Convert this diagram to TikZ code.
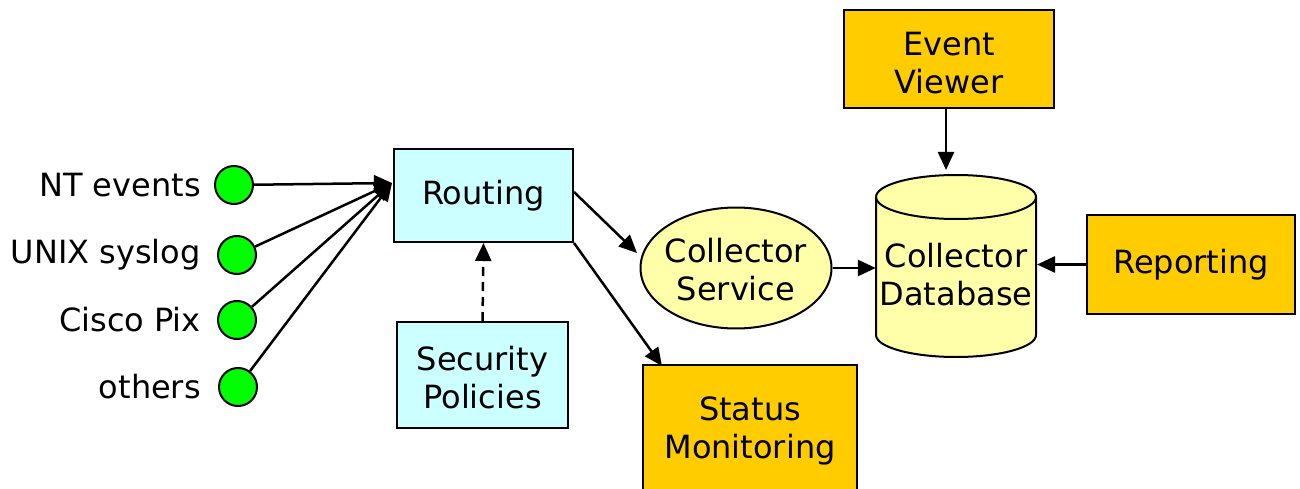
\documentclass[tikz,border=0pt]{standalone}
\usepackage{fontspec}
\setmainfont{DejaVu Sans}
\usetikzlibrary{arrows.meta,shapes.geometric}
\definecolor{cyanbox}{HTML}{CCFFFF}
\definecolor{orangebox}{HTML}{FFCC00}
\definecolor{yellowfill}{HTML}{FFFFAA}
\definecolor{greendot}{HTML}{00FF00}
\begin{document}
\begin{tikzpicture}[x=1pt,y=-1pt,
  every node/.style={font=\fontsize{32}{38}\selectfont, align=center, inner sep=0pt},
  box/.style={draw=black, line width=2pt, minimum width=#1},
  cyanstyle/.style={box=#1, fill=cyanbox},
  orangestyle/.style={box=#1, fill=orangebox},
  dot/.style={circle, draw=black, line width=2pt, fill=greendot, minimum size=38pt},
  lbl/.style={anchor=east},
  conn/.style={line width=2.5pt, -{Triangle[length=18pt,width=16pt]}},
  dconn/.style={conn, dash pattern=on 9pt off 6pt}
]
\clip (0,0) rectangle (1300,489);
\useasboundingbox (0,0) rectangle (1300,489);
% sources
\node[dot] (d1) at (234,185) {};
\node[dot] (d2) at (237,255) {};
\node[dot] (d3) at (237,320) {};
\node[dot] (d4) at (238,387) {};
\node[lbl] (l1) at (201,185) {NT events};
\node[lbl] (l2) at (201,255) {UNIX syslog};
\node[lbl] (l3) at (201,320) {Cisco Pix};
\node[lbl] (l4) at (201,387) {others};
% boxes
\node[cyanstyle=179pt, minimum height=93pt] (routing) at (483.5,195.5) {Routing};
\node[cyanstyle=171pt, minimum height=106pt] (policies) at (482.5,375) {};
\node (policiestext) at (482.5,378) {Security\\Policies};
\node[ellipse, draw=black, line width=2pt, fill=yellowfill, minimum width=191pt, minimum height=121pt, inner sep=-8pt] (service) at (736,268) {};
\node (servicetext) at (736,270) {Collector\\Service};
\node[orangestyle=214pt, minimum height=130pt] (status) at (750,430) {};
\node (statustext) at (750,431) {Status\\Monitoring};
\node[orangestyle=210pt, minimum height=98pt] (viewer) at (949,59) {};
\node (viewertext) at (949,63) {Event\\Viewer};
\node[orangestyle=208pt, minimum height=99pt] (reporting) at (1191,264.5) {Reporting};
% database cylinder
\filldraw[fill=yellowfill, draw=black, line width=2pt]
  (876,197) -- (876,335) arc[start angle=180, end angle=0, x radius=80, y radius=22]
  -- (1036,197) arc[start angle=0, end angle=-180, x radius=80, y radius=22] -- cycle;
\draw[black, line width=2pt] (876,197) arc[start angle=180, end angle=0, x radius=80, y radius=22];
\node[minimum width=160pt, minimum height=182pt] (db) at (956,266) {};
\node (dbtext) at (956,275) {Collector\\Database};
% connectors
\coordinate (rin) at (392,183);
\draw[conn] (d1) -- (rin);
\draw[conn] (d2) -- (rin);
\draw[conn] (d3) -- (rin);
\draw[conn] (d4) -- (rin);
\draw[dconn] (policies.north) -- (routing.south);
\draw[conn] (routing.east |- 0,192) -- (637,253);
\draw[conn] (routing.south east) -- (662,366);
\draw[conn] (service.east) -- (db.west |- service.east);
\draw[conn] (viewer.south -| 946,0) -- (946,170);
\draw[conn] (reporting.west) -- (1037,264.5);
\end{tikzpicture}
\end{document}
